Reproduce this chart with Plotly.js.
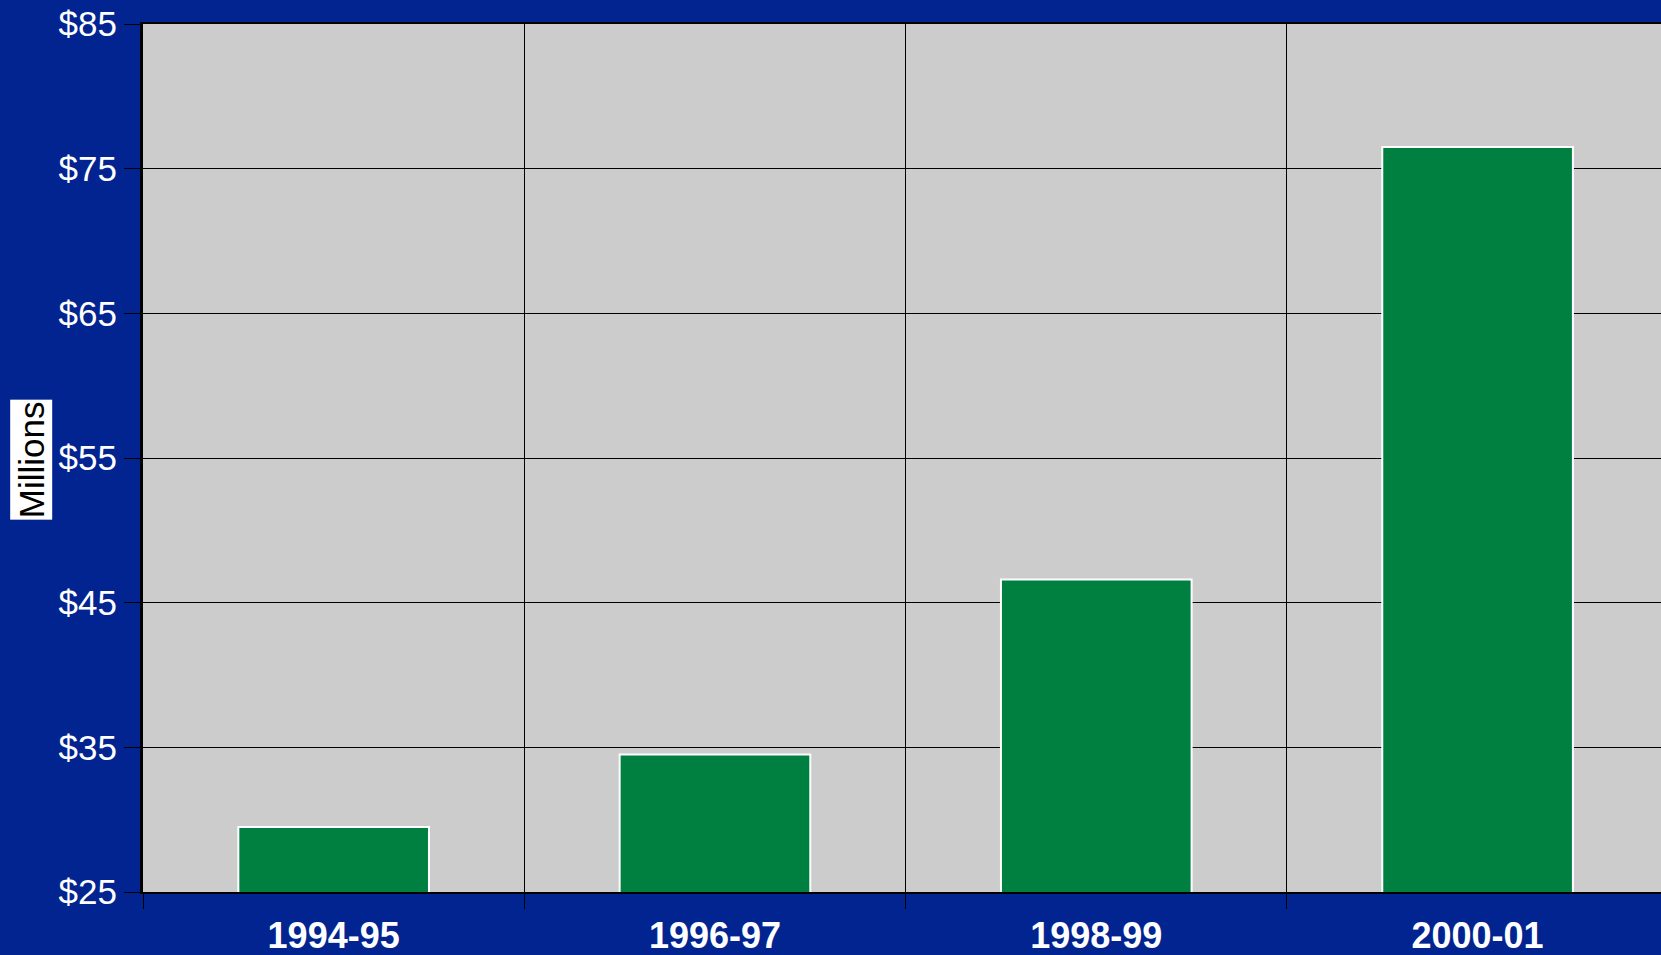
<!DOCTYPE html>
<html>
<head>
<meta charset="utf-8">
<script src="https://cdn.plot.ly/plotly-3.0.1.min.js"></script>
<style>
  html, body { margin: 0; padding: 0; background: #022490; }
  #plot { width: 1661px; height: 955px; }
</style>
</head>
<body>
<div id="plot"></div>
<script>
var years = ['1994-95', '1996-97', '1998-99', '2000-01'];
var millions = [29.5, 34.5, 46.6, 76.5];
var yTicks = [25, 35, 45, 55, 65, 75, 85];

var bars = {
  x: years,
  y: millions,
  type: 'bar',
  width: 0.5,
  marker: {color: '#008040', line: {color: '#ffffff', width: 2}},
  hoverinfo: 'x+y'
};

var layout = {
  width: 1661,
  height: 955,
  autosize: false,
  showlegend: false,
  paper_bgcolor: '#022490',
  plot_bgcolor: '#cccccc',
  margin: {l: 143, r: 0, t: 24, b: 63},
  font: {family: 'Liberation Sans, Arial, sans-serif', color: '#ffffff'},
  bargap: 0.5,
  xaxis: {
    type: 'category',
    range: [-0.5, 3.481],
    tickson: 'boundaries',
    ticks: 'outside',
    ticklen: 15,
    tickcolor: '#000000',
    ticklabelstandoff: 11,
    showgrid: true,
    gridcolor: '#000000',
    gridwidth: 1,
    showline: true,
    linecolor: '#000000',
    linewidth: 2,
    mirror: true,
    tickfont: {size: 36, color: '#ffffff', weight: 'bold'}
  },
  yaxis: {
    range: [25, 85],
    tickvals: yTicks,
    ticktext: yTicks.map(function (v) { return '$' + v; }),
    ticks: 'outside',
    ticklen: 16,
    tickcolor: '#000000',
    showgrid: true,
    gridcolor: '#000000',
    gridwidth: 1,
    showline: true,
    linecolor: '#000000',
    linewidth: 3,
    zeroline: false,
    tickfont: {size: 35, color: '#ffffff'}
  },
  annotations: [{
    text: 'Millions',
    xref: 'paper', yref: 'paper',
    x: -0.0735, y: 0.498,
    xanchor: 'center', yanchor: 'middle',
    textangle: -90,
    showarrow: false,
    bgcolor: '#ffffff',
    borderpad: 1,
    font: {size: 35, color: '#000000'}
  }]
};

Plotly.newPlot('plot', [bars], layout, {displayModeBar: false});
</script>
</body>
</html>
